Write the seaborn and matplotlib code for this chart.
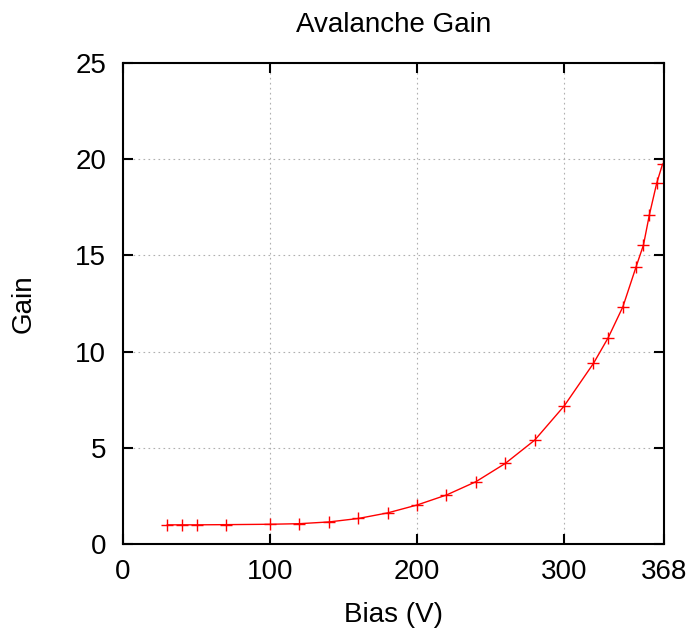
import matplotlib
matplotlib.use("Agg")
import matplotlib.pyplot as plt
import seaborn as sns
import pandas as pd

# Bias voltage (V) and measured avalanche gain
bias = [30, 40, 50, 70, 100, 120, 140, 160, 180, 200, 220, 240, 260, 280,
        300, 320, 330, 340, 349, 354, 358, 363, 367]
gain = [1.0, 1.0, 1.0, 1.01, 1.03, 1.06, 1.15, 1.33, 1.62, 2.03, 2.55, 3.24,
        4.19, 5.4, 7.17, 9.39, 10.72, 12.33, 14.41, 15.54, 17.1, 18.75, 19.75]
xticks = [0, 100, 200, 300, 368]
yticks = [0, 5, 10, 15, 20, 25]

df = pd.DataFrame({"Bias": bias, "Gain": gain})

sns.set_style("ticks")
plt.rcParams["font.family"] = ["Liberation Sans", "DejaVu Sans"]
plt.rcParams["text.color"] = "black"
plt.rcParams["axes.labelcolor"] = "black"
plt.rcParams["xtick.color"] = "black"
plt.rcParams["ytick.color"] = "black"

fig = plt.figure(figsize=(6.91, 6.29), dpi=100)
ax = fig.add_axes([0.178, 0.135, 0.783, 0.765])

sns.lineplot(data=df, x="Bias", y="Gain", ax=ax, color="#ff0000",
             linewidth=1.0, marker="+", markersize=9, markeredgewidth=1.0,
             markeredgecolor="#ff0000")

ax.set_xlim(0, 368)
ax.set_ylim(0, 25)
ax.set_xticks(xticks)
ax.set_yticks(yticks)
ax.grid(True, color="#b0b0b0", linestyle=(0, (1.5, 3)), linewidth=0.8)
ax.tick_params(direction="in", top=True, right=True, length=7, width=1.5,
               labelsize=20)
ax.tick_params(axis="x", pad=11)
ax.tick_params(axis="y", pad=12)
for s in ax.spines.values():
    s.set_linewidth(1.5)
    s.set_color("black")

ax.set_title("Avalanche Gain", fontsize=20, pad=22)
ax.set_xlabel("Bias (V)", fontsize=20, labelpad=12)
ax.set_ylabel("Gain", fontsize=20, labelpad=28)

fig.savefig("out.png", dpi=100)
